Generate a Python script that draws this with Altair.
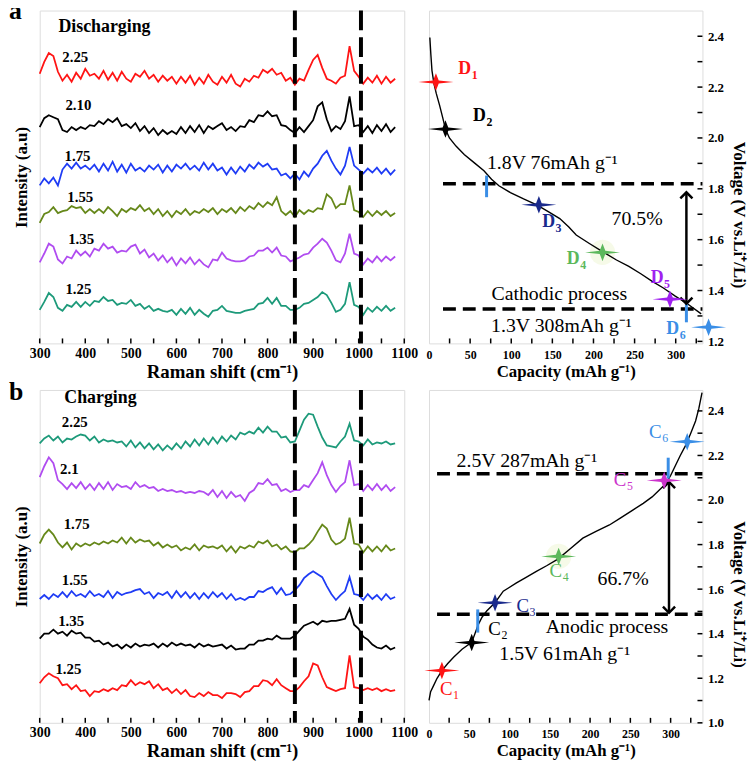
import altair as alt
import pandas as pd

FONT = "Liberation Serif"

# ---------------- Raman spectra (a.u.), sampled every 10 cm-1 from 300 to 1080 ----------------
RAMAN_X = list(range(300, 1081, 10))
RAMAN_TICKS = [300, 350, 400, 450, 500, 550, 600, 650, 700, 750, 800, 850, 900, 950, 1000, 1050, 1100]
DASH_CM = [860, 1005]

# Discharging
D225 = [273, 285, 294, 291, 275, 266, 272, 265, 274, 268,
        278, 271, 273, 268, 276, 267, 274, 266, 275, 268,
        265, 273, 270, 276, 268, 272, 265, 271, 266, 270,
        263, 270, 264, 271, 262, 269, 263, 272, 265, 262,
        270, 264, 272, 263, 260, 268, 265, 271, 269, 277,
        274, 278, 272, 274, 266, 269, 262, 268, 266, 277,
        287, 292, 279, 268, 266, 263, 269, 271, 301, 276,
        270, 263, 269, 264, 271, 263, 270, 264, 268]
D210 = [219, 228, 231, 229, 227, 216, 214, 219, 216, 219,
        217, 221, 220, 225, 222, 227, 224, 228, 220, 222,
        218, 223, 215, 220, 213, 218, 211, 216, 212, 215,
        212, 219, 213, 220, 214, 221, 213, 220, 217, 220,
        223, 216, 219, 215, 220, 219, 226, 224, 231, 230,
        235, 230, 231, 221, 220, 216, 213, 219, 214, 220,
        226, 240, 244, 227, 215, 220, 217, 225, 250, 220,
        221, 214, 220, 213, 221, 215, 222, 214, 219]
D175 = [160, 167, 162, 168, 160, 176, 182, 177, 183, 177,
        180, 176, 181, 174, 182, 175, 184, 174, 181, 173,
        182, 175, 178, 174, 180, 176, 181, 173, 180, 174,
        181, 177, 182, 176, 180, 175, 183, 176, 182, 175,
        178, 171, 178, 172, 179, 174, 181, 177, 183, 179,
        182, 176, 177, 170, 172, 167, 172, 166, 174, 169,
        177, 182, 190, 195, 185, 177, 171, 180, 199, 180,
        176, 172, 177, 173, 178, 172, 177, 171, 176]
D155 = [122, 131, 133, 138, 132, 134, 135, 139, 137, 138,
        132, 136, 132, 136, 132, 138, 134, 129, 136, 133,
        137, 135, 140, 134, 137, 131, 136, 129, 134, 128,
        134, 131, 136, 130, 134, 132, 136, 133, 137, 131,
        136, 133, 137, 132, 138, 134, 139, 136, 142, 138,
        143, 140, 148, 134, 130, 134, 128, 135, 131, 135,
        133, 137, 136, 151, 147, 137, 141, 141, 160, 135,
        133, 128, 134, 129, 134, 130, 134, 129, 132]
D135 = [82, 91, 101, 98, 85, 81, 88, 86, 94, 89,
        93, 88, 96, 94, 101, 96, 98, 92, 94, 93,
        98, 100, 91, 95, 87, 91, 84, 89, 82, 87,
        79, 86, 81, 87, 80, 85, 80, 77, 85, 84,
        92, 86, 84, 83, 83, 84, 88, 89, 94, 94,
        97, 92, 97, 89, 88, 83, 85, 87, 90, 91,
        97, 101, 106, 102, 94, 84, 82, 91, 111, 91,
        89, 80, 86, 82, 88, 83, 88, 84, 88]
D125 = [34, 42, 51, 47, 36, 33, 39, 37, 42, 37,
        42, 38, 43, 42, 47, 43, 44, 39, 41, 40,
        44, 38, 40, 35, 38, 33, 35, 33, 32, 34,
        29, 35, 30, 36, 29, 34, 30, 27, 33, 34,
        38, 33, 32, 31, 31, 33, 34, 35, 40, 41,
        46, 40, 46, 38, 38, 34, 34, 36, 40, 41,
        44, 47, 52, 49, 41, 32, 34, 40, 62, 39,
        37, 29, 36, 32, 37, 33, 38, 33, 36]

# Charging
C225 = [282, 287, 290, 285, 289, 283, 287, 286, 289, 291,
        290, 285, 289, 283, 286, 284, 285, 283, 284, 279,
        285, 278, 283, 277, 282, 276, 281, 275, 280, 276,
        282, 277, 284, 279, 286, 280, 287, 281, 288, 282,
        289, 284, 290, 286, 293, 291, 294, 292, 298, 293,
        299, 294, 294, 288, 289, 283, 284, 295, 306, 312,
        311, 299, 288, 280, 279, 278, 284, 289, 302, 285,
        284, 280, 286, 281, 283, 282, 284, 281, 282]
C210 = [248, 259, 268, 262, 245, 241, 236, 242, 237, 243,
        236, 241, 235, 242, 236, 243, 235, 241, 238, 239,
        236, 243, 238, 240, 237, 238, 234, 236, 234, 235,
        233, 234, 232, 233, 232, 234, 233, 230, 235, 228,
        234, 227, 233, 228, 230, 224, 232, 235, 242, 241,
        246, 240, 241, 234, 236, 233, 235, 235, 240, 238,
        245, 252, 263, 250, 240, 233, 239, 243, 265, 240,
        241, 234, 240, 235, 241, 235, 240, 234, 238]
C175 = [181, 190, 195, 190, 182, 177, 182, 175, 181, 178,
        181, 179, 182, 180, 183, 181, 184, 182, 187, 181,
        187, 182, 185, 183, 184, 179, 182, 177, 180, 177,
        179, 174, 177, 175, 180, 174, 179, 177, 178, 176,
        179, 173, 178, 172, 178, 176, 179, 177, 183, 181,
        184, 178, 180, 175, 178, 173, 172, 176, 176, 180,
        185, 193, 200, 196, 185, 180, 182, 186, 207, 181,
        180, 172, 178, 173, 178, 173, 179, 174, 176]
C155 = [125, 129, 125, 130, 127, 132, 127, 133, 128, 130,
        127, 133, 128, 130, 127, 133, 126, 132, 129, 131,
        132, 134, 135, 130, 132, 126, 131, 129, 132, 126,
        133, 127, 132, 126, 131, 125, 131, 126, 132, 127,
        131, 125, 130, 124, 126, 124, 127, 127, 133, 132,
        135, 137, 130, 136, 129, 130, 134, 139, 146, 150,
        153, 150, 147, 138, 130, 124, 129, 133, 147, 130,
        129, 124, 130, 125, 129, 124, 130, 125, 127]
C135 = [85, 90, 90, 94, 90, 92, 88, 93, 90, 91,
        86, 86, 82, 83, 79, 81, 77, 79, 75, 79,
        76, 80, 77, 79, 78, 80, 76, 80, 77, 81,
        78, 80, 78, 79, 76, 80, 77, 79, 77, 78,
        79, 75, 78, 74, 75, 75, 79, 79, 83, 83,
        85, 84, 88, 85, 85, 85, 88, 93, 98, 100,
        102, 99, 103, 102, 103, 103, 104, 105, 115, 99,
        95, 87, 84, 79, 76, 75, 78, 74, 76]
C125 = [40, 46, 50, 47, 45, 38, 39, 34, 38, 32,
        33, 27, 32, 31, 34, 32, 35, 33, 38, 37,
        43, 38, 41, 39, 42, 35, 39, 33, 35, 30,
        34, 29, 33, 27, 26, 30, 27, 31, 28, 28,
        25, 30, 30, 29, 26, 31, 32, 37, 37, 43,
        42, 38, 44, 38, 35, 32, 32, 36, 42, 47,
        60, 58, 46, 36, 34, 32, 34, 35, 68, 36,
        35, 33, 35, 33, 35, 32, 34, 32, 33]

DIS_NAMES = ["2.25", "2.10", "1.75", "1.55", "1.35", "1.25"]
DIS_COLORS = ["#ff1414", "#000000", "#1f3cf5", "#66881a", "#b04cf0", "#1d9a7a"]
DIS_SERIES = [D225, D210, D175, D155, D135, D125]
DIS_LAB_X = [378, 385, 383, 389, 391, 385]
DIS_LAB_Y = [290, 241, 190, 148, 106, 55]

CH_NAMES = ["2.25", "2.1", "1.75", "1.55", "1.35", "1.25"]
CH_COLORS = ["#1d9a7a", "#b04cf0", "#66881a", "#1f3cf5", "#000000", "#ff1414"]
CH_SERIES = [C225, C210, C175, C155, C135, C125]
CH_LAB_X = [377, 365, 381, 377, 369, 363]
CH_LAB_Y = [304, 256, 201, 144, 103, 54]

# ---------------- Galvanostatic curves ----------------
DIS_CAP = [1.0, 2.2, 3.6, 6.0, 8.8, 12.8, 16.8, 20, 24.8, 32.8,
           42.8, 54.8, 66.8, 76, 85, 99, 115, 131, 145, 159,
           170, 179, 195, 211, 228, 243, 258, 271, 285, 299,
           315, 331]
DIS_V = [2.395, 2.33, 2.265, 2.214, 2.175, 2.129, 2.078, 2.035, 2.0, 1.968,
         1.935, 1.903, 1.871, 1.838, 1.812, 1.785, 1.76, 1.737, 1.71, 1.683,
         1.65, 1.618, 1.585, 1.553, 1.52, 1.495, 1.465, 1.437, 1.41, 1.379,
         1.346, 1.308]

CH_CAP = [0, 2, 5.8, 10, 16, 23, 30.5, 41, 53, 57,
          61.3, 66, 71.6, 81.9, 92.2, 108.6, 120, 133.3, 146, 160,
          175, 191, 208, 224, 238, 253, 266, 277, 286, 294,
          300, 306, 312, 318.5, 325, 331, 335, 339]
CH_V = [1.101, 1.14, 1.168, 1.2, 1.234, 1.265, 1.294, 1.33, 1.361, 1.40,
        1.442, 1.475, 1.502, 1.539, 1.591, 1.628, 1.652, 1.680, 1.705, 1.735,
        1.78, 1.829, 1.86, 1.888, 1.92, 1.955, 1.985, 2.014, 2.045, 2.073,
        2.11, 2.155, 2.20, 2.244, 2.30, 2.355, 2.41, 2.482]

CAP_LABELS = [0, 50, 100, 150, 200, 250, 300]
CAP_INNER = [25, 50, 75, 100, 125, 150, 175, 200, 225, 250, 275, 300, 325]

TICK_BLUE = "#3a8ee6"

TOP_RIGHT = {
    "cap": DIS_CAP, "v": DIS_V,
    "xdom": [0, 332.5], "ydom": [1.192, 2.501],
    "yticks": [1.2, 1.4, 1.6, 1.8, 2.0, 2.2, 2.4],
    "yminor": [1.3, 1.5, 1.7, 1.9, 2.1, 2.3],
    "keys": ["D1", "D2", "D3", "D4", "D5", "D6"],
    "letter": ["D", "D", "D", "D", "D", "D"],
    "sub": ["1", "2", "3", "4", "5", "6"],
    "colors": ["#ff1414", "#000000", "#1a2a8c", "#5cb85c", "#a020f0", TICK_BLUE],
    "st_cap": [8.4, 20, 133.6, 211, 293, 340],
    "st_v": [2.22, 2.035, 1.737, 1.55, 1.366, 1.256],
    "glow": [3],
    "sl_cap": [47, 65, 149, 179, 281, 300],
    "sl_v": [2.27, 2.085, 1.67, 1.522, 1.45, 1.249],
    "lab_weight": "bold", "lab_size": 18,
    "hl_y": [1.82, 1.327], "hl_x1": [17, 17], "hl_x2": [332.5, 332.5],
    "bt_x": [70, 313], "bt_y1": [1.767, 1.275], "bt_y2": [1.852, 1.353],
    "ar_x": 313, "ar_top": 1.786, "ar_bot": 1.348,
    "an_text": ["1.8V 76mAh g⁻¹", "70.5%", "Cathodic process", "1.3V 308mAh g⁻¹"],
    "an_cap": [150, 253, 158.5, 161],
    "an_v": [1.903, 1.683, 1.385, 1.262],
}

BOTTOM_RIGHT = {
    "cap": CH_CAP, "v": CH_V,
    "xdom": [0, 339.5], "ydom": [1.0, 2.494],
    "yticks": [1.0, 1.2, 1.4, 1.6, 1.8, 2.0, 2.2, 2.4],
    "yminor": [1.1, 1.3, 1.5, 1.7, 1.9, 2.1, 2.3],
    "keys": ["C1", "C2", "C3", "C4", "C5", "C6"],
    "letter": ["C", "C", "C", "C", "C", "C"],
    "sub": ["1", "2", "3", "4", "5", "6"],
    "colors": ["#ff1414", "#000000", "#1a2a8c", "#5cb85c", "#cc33cc", TICK_BLUE],
    "st_cap": [16, 53, 82, 161, 292, 320.6],
    "st_v": [1.235, 1.36, 1.539, 1.747, 2.088, 2.262],
    "glow": [3],
    "sl_cap": [25, 85, 120, 161, 241, 284.6],
    "sl_v": [1.153, 1.42, 1.524, 1.68, 2.088, 2.304],
    "lab_weight": "normal", "lab_size": 19,
    "hl_y": [2.118, 1.487], "hl_x1": [10, 10], "hl_x2": [339.5, 339.5],
    "bt_x": [297, 60.5], "bt_y1": [2.096, 1.405], "bt_y2": [2.19, 1.509],
    "ar_x": 298, "ar_top": 2.081, "ar_bot": 1.494,
    "an_text": ["2.5V 287mAh g⁻¹", "66.7%", "Anodic process", "1.5V 61mAh g⁻¹"],
    "an_cap": [121.6, 241, 221, 168.5],
    "an_v": [2.177, 1.647, 1.428, 1.309],
}

STAR = "M-1,0L-0.16,-0.09L0,-0.5L0.16,-0.09L1,0L0.16,0.09L0,0.5L-0.16,0.09Z"
UP = "M-1,1L0,0L1,1"
DOWN = "M-1,-1L0,0L1,-1"

W_L, W_R, H = 368, 276, 336


def raman_panel(names, colors, series, lab_x, lab_y, head_text, head_x, head_y,
                letter, letter_y, letter_baseline, ydom):
    rows = []
    for n, s in zip(names, series):
        for xv, yv in zip(RAMAN_X, s):
            rows.append({"x": xv, "y": yv, "s": n})
    df = pd.DataFrame(rows)
    xax = alt.Axis(values=RAMAN_TICKS, format="d",
                   labelExpr="datum.value % 100 == 0 ? datum.label : ''",
                   ticks=False, domain=False, grid=False, labelFont=FONT,
                   labelFontWeight="bold", labelFontSize=14, labelColor="black",
                   labelPadding=3, labelFlush=False, labelOverlap=False,
                   title="Raman shift (cm⁻¹)", titleFont=FONT, titleFontWeight="bold",
                   titleFontSize=19, titleColor="black", titlePadding=2)
    yax = alt.Axis(labels=False, ticks=False, domain=False, grid=False,
                   title="Intensity (a.u)", titleFont=FONT, titleFontWeight="bold",
                   titleFontSize=17, titleColor="black", titlePadding=9)
    X = alt.X("x:Q", scale=alt.Scale(domain=[300, 1100], nice=False, zero=False), axis=xax)
    Y = alt.Y("y:Q", scale=alt.Scale(domain=ydom, nice=False, zero=False), axis=yax)

    lines = alt.Chart(df).mark_line(strokeWidth=1.8).encode(
        x=X, y=Y,
        color=alt.Color("s:N", scale=alt.Scale(domain=names, range=colors), legend=None))
    dash = alt.Chart(pd.DataFrame({"x": DASH_CM})).mark_rule(
        color="black", strokeWidth=4, strokeDash=[20, 7]).encode(x=X)
    tk = alt.Chart(pd.DataFrame({"x": RAMAN_TICKS})).mark_rule(
        color="black", strokeWidth=1.5).encode(x=X, y=alt.value(H), y2=alt.value(H - 5))
    lab = alt.Chart(pd.DataFrame({"x": lab_x, "y": lab_y, "t": names})).mark_text(
        font=FONT, fontWeight="bold", fontSize=15, color="black").encode(x=X, y=Y, text="t:N")
    head = alt.Chart(pd.DataFrame({"x": [head_x], "y": [head_y], "t": [head_text]})).mark_text(
        font=FONT, fontWeight="bold", fontSize=18, align="left", color="black").encode(
        x=X, y=Y, text="t:N")
    let = alt.Chart(pd.DataFrame({"t": [letter]})).mark_text(
        font=FONT, fontWeight="bold", fontSize=26, align="left", baseline=letter_baseline,
        color="black").encode(x=alt.value(-31), y=alt.value(letter_y), text="t:N")
    return alt.layer(tk, lines, dash, lab, head, let).properties(width=W_L, height=H)


def volt_panel(p):
    xax = alt.Axis(values=CAP_LABELS, format="d", ticks=False, domain=False, grid=False,
                   labelFont=FONT, labelFontWeight="bold", labelFontSize=12,
                   labelColor="black", labelPadding=6, labelFlush=False, labelOverlap=False,
                   title="Capacity (mAh g⁻¹)", titleFont=FONT, titleFontWeight="bold",
                   titleFontSize=17, titleColor="black", titlePadding=3)
    yax = alt.Axis(orient="right", values=p["yticks"], format=".1f", ticks=False,
                   domain=False, grid=False, labelFont=FONT, labelFontWeight="bold",
                   labelFontSize=13, labelColor="black", labelPadding=5,
                   labelFlush=False, labelOverlap=False,
                   title="Voltage (V vs.Li⁺/Li)", titleFont=FONT, titleFontWeight="bold",
                   titleFontSize=17, titleColor="black", titleAngle=90,
                   titleAlign="center", titleBaseline="middle", titleX=36, titleY=206)
    X = alt.X("x:Q", scale=alt.Scale(domain=p["xdom"], nice=False, zero=False), axis=xax)
    Y = alt.Y("y:Q", scale=alt.Scale(domain=p["ydom"], nice=False, zero=False), axis=yax)
    col = alt.Color("k:N", scale=alt.Scale(domain=p["keys"], range=p["colors"]), legend=None)

    xt = alt.Chart(pd.DataFrame({"x": CAP_INNER})).mark_rule(
        color="black", strokeWidth=1.5).encode(x=X, y=alt.value(H), y2=alt.value(H - 5))
    yt = alt.Chart(pd.DataFrame({"y": p["yticks"] + p["yminor"]})).mark_rule(
        color="black", strokeWidth=1.5).encode(y=Y, x=alt.value(W_R - 5), x2=alt.value(W_R))
    hl = alt.Chart(pd.DataFrame({"x": p["hl_x1"], "x2": p["hl_x2"], "y": p["hl_y"]})).mark_rule(
        color="black", strokeWidth=3.5, strokeDash=[13, 7]).encode(x=X, x2="x2:Q", y=Y)
    gl = alt.Chart(pd.DataFrame({"x": [p["st_cap"][i] for i in p["glow"]],
                                 "y": [p["st_v"][i] for i in p["glow"]]})).mark_point(
        shape="circle", size=650, filled=True, color="#f4f9e2", opacity=0.8).encode(x=X, y=Y)
    curve = alt.Chart(pd.DataFrame({"x": p["cap"], "y": p["v"]})).mark_line(
        color="black", strokeWidth=1.4).encode(x=X, y=Y)
    bt = alt.Chart(pd.DataFrame({"x": p["bt_x"], "y": p["bt_y1"], "y2": p["bt_y2"]})).mark_rule(
        color=TICK_BLUE, strokeWidth=3).encode(x=X, y=Y, y2="y2:Q")
    ar = alt.Chart(pd.DataFrame({"x": [p["ar_x"]], "y": [p["ar_bot"]], "y2": [p["ar_top"]]})).mark_rule(
        color="black", strokeWidth=2.5).encode(x=X, y=Y, y2="y2:Q")
    hu = alt.Chart(pd.DataFrame({"x": [p["ar_x"]], "y": [p["ar_top"]]})).mark_point(
        shape=UP, size=150, color="black", strokeWidth=2.5, filled=False, opacity=1).encode(x=X, y=Y)
    hd = alt.Chart(pd.DataFrame({"x": [p["ar_x"]], "y": [p["ar_bot"]]})).mark_point(
        shape=DOWN, size=150, color="black", strokeWidth=2.5, filled=False, opacity=1).encode(x=X, y=Y)
    st = alt.Chart(pd.DataFrame({"x": p["st_cap"], "y": p["st_v"], "k": p["keys"]})).mark_point(
        shape=STAR, size=1250, filled=True, opacity=1).encode(x=X, y=Y, color=col)
    sl = alt.Chart(pd.DataFrame({"x": p["sl_cap"], "y": p["sl_v"], "k": p["keys"], "t": p["letter"]})).mark_text(
        font=FONT, fontWeight=p["lab_weight"], fontSize=p["lab_size"], dx=-3).encode(
        x=X, y=Y, text="t:N", color=col)
    ss = alt.Chart(pd.DataFrame({"x": p["sl_cap"], "y": p["sl_v"], "k": p["keys"], "t": p["sub"]})).mark_text(
        font=FONT, fontWeight=p["lab_weight"], fontSize=12, dx=4, dy=6, align="left").encode(
        x=X, y=Y, text="t:N", color=col)
    an = alt.Chart(pd.DataFrame({"x": p["an_cap"], "y": p["an_v"], "t": p["an_text"]})).mark_text(
        font=FONT, fontSize=20, color="black").encode(x=X, y=Y, text="t:N")
    return alt.layer(xt, yt, gl, hl, curve, bt, ar, hu, hd, st, sl, ss, an).properties(width=W_R, height=H)


tl = raman_panel(DIS_NAMES, DIS_COLORS, DIS_SERIES, DIS_LAB_X, DIS_LAB_Y,
                 "Discharging", 341, 320, "a", -12, "top", [0, 337])
bl = raman_panel(CH_NAMES, CH_COLORS, CH_SERIES, CH_LAB_X, CH_LAB_Y,
                 "Charging", 354, 328, "b", 10, "alphabetic", [0, 336])
tr = volt_panel(TOP_RIGHT)
br = volt_panel(BOTTOM_RIGHT)

chart = alt.concat(
    tl, tr, bl, br, columns=2, spacing={"row": 47, "column": 25},
    bounds="flush", align="each"
).resolve_scale(color="independent").properties(
    padding={"left": 0, "top": -14, "right": 0, "bottom": 0}
).configure_view(stroke="black", strokeWidth=2).configure(background="white")

chart.save("out.html", embed_options={"renderer": "svg", "actions": False})
